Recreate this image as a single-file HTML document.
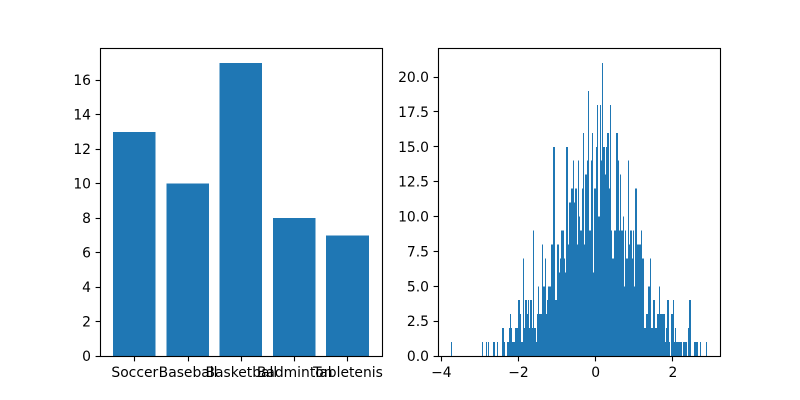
<!DOCTYPE html>
<html>
<head>
<meta charset="utf-8">
<title>Sports bar chart and histogram</title>
<style>
html,body{margin:0;padding:0;background:#fff;}
svg{display:block;}
text{font-family:"DejaVu Sans","Liberation Sans",sans-serif;font-size:13.89px;fill:#000;}
</style>
</head>
<body>
<svg id="figure" width="800" height="400" viewBox="0 0 800 400" xmlns="http://www.w3.org/2000/svg"></svg>
<script>
const sportCategories = ["Soccer", "Baseball", "Basketball", "Badminton", "Tabletenis"];
const sportValues = [13, 10, 17, 8, 7];
const barYTicks = [0, 2, 4, 6, 8, 10, 12, 14, 16];
const histXTicks = [-4, -2, 0, 2];
const histYTicks = [0, 2.5, 5, 7.5, 10, 12.5, 15, 17.5, 20];
const histBinStart = -3.7358;
const histBinWidth = 0.025907;
const histCounts = [
1,0,0,0,0,0,0,0,0,0,0,0,0,0,0,0,0,0,0,0,0,0,0,0,0,0,0,0,0,0,0,
1,0,0,0,1,0,1,0,0,0,0,1,1,0,0,1,0,0,0,0,2,2,1,0,0,1,1,2,3,2,1,1,1,2,2,2,4,4,3,1,1,7,2,4,4,3,4,2,
4,4,2,9,2,2,1,3,5,3,3,3,8,5,5,7,3,4,5,5,5,8,8,15,15,4,4,8,8,6,7,9,9,9,7,6,15,15,8,11,11,12,12,14,11,12,12,8,14,10,9,9,12,16,8,13,13,14,19,9,
9,14,16,6,12,12,15,18,10,10,18,14,21,15,15,13,15,16,16,12,18,9,7,7,9,9,16,16,14,9,13,9,9,10,5,9,7,7,14,8,9,9,7,9,5,12,12,8,8,8,8,9,7,7,2,2,3,3,5,5,
7,2,2,4,4,2,2,3,3,5,3,3,3,3,3,1,2,4,4,1,0,3,3,4,1,2,1,1,1,1,1,1,0,1,1,1,1,0,2,4,4,0,0,0,1,1,1,1,0,0,1,0,0,0,0,0,1
];

const SVG_NS = "http://www.w3.org/2000/svg";
const fig = document.getElementById("figure");
const BLUE = "#1f77b4";
const axTop = 48, axBottom = 356;
const leftAx = {x0: 100, x1: 382};
const rightAx = {x0: 438, x1: 720};

function make(tag, attrs, parent) {
  const el = document.createElementNS(SVG_NS, tag);
  for (const k in attrs) el.setAttribute(k, attrs[k]);
  parent.appendChild(el);
  return el;
}

/* axis functions */
const barX = v => 134.29 + 53.3 * v;
const barY = v => axBottom - 17.25 * v;
const histX = v => 595.2 + 38.6 * v;
const histY = v => axBottom - 13.95 * v;
const snapX = p => Math.round(p) + 0.5;
const snapY = p => Math.round(p - 0.4) + 0.5;

function drawFrame(ax, parent) {
  const frame = make("rect", {x: ax.x0 + 0.5, y: axTop + 0.5, width: ax.x1 - ax.x0, height: axBottom - axTop, fill: "none", stroke: "#000", "stroke-width": 1.11}, parent);
  
  
}

function drawYTick(ax, py, label, parent) {
  const y = snapY(py);
  const tick = make("line", {x1: ax.x0 + 0.5, x2: ax.x0 - 4.4, y1: y, y2: y, stroke: "#000", "stroke-width": 1.11}, parent);
  
  
  const t = make("text", {x: ax.x0 - 9, y: py + 5, "text-anchor": "end"}, parent);
  t.textContent = label;
  
  
}

function drawXTick(px, label, parent) {
  const x = snapX(px);
  const tick = make("line", {x1: x, x2: x, y1: axBottom + 0.5, y2: axBottom + 5.4, stroke: "#000", "stroke-width": 1.11}, parent);
  
  
  const t = make("text", {x: px + 0.5, y: axBottom + 21, "text-anchor": "middle"}, parent);
  t.textContent = label;
  
  
}

/* left bar chart */
const barGroup = make("g", {}, fig);


sportValues.forEach((v, i) => {
  const x0 = barX(i - 0.4), x1 = barX(i + 0.4);
  const r = make("rect", {x: x0, y: barY(v), width: x1 - x0, height: axBottom - barY(v), fill: BLUE, "shape-rendering": "crispEdges"}, barGroup);
  
  
});
drawFrame(leftAx, barGroup);
barYTicks.forEach(v => drawYTick(leftAx, barY(v), String(v), barGroup));
sportCategories.forEach((c, i) => drawXTick(barX(i), c, barGroup));

/* right histogram */
const histGroup = make("g", {}, fig);


const histBars = make("g", {"shape-rendering": "crispEdges"}, histGroup);


histCounts.forEach((c, i) => {
  if (!c) return;
  const x0 = histX(histBinStart + i * histBinWidth);
  const x1 = histX(histBinStart + (i + 1) * histBinWidth);
  const r = make("rect", {x: x0, y: histY(c), width: x1 - x0, height: axBottom - histY(c), fill: BLUE}, histBars);
  
  
});
drawFrame(rightAx, histGroup);
histYTicks.forEach(v => drawYTick(rightAx, histY(v), v.toFixed(1), histGroup));
histXTicks.forEach(v => drawXTick(histX(v), v < 0 ? "\u2212" + Math.abs(v) : String(v), histGroup));
</script>
</body>
</html>
